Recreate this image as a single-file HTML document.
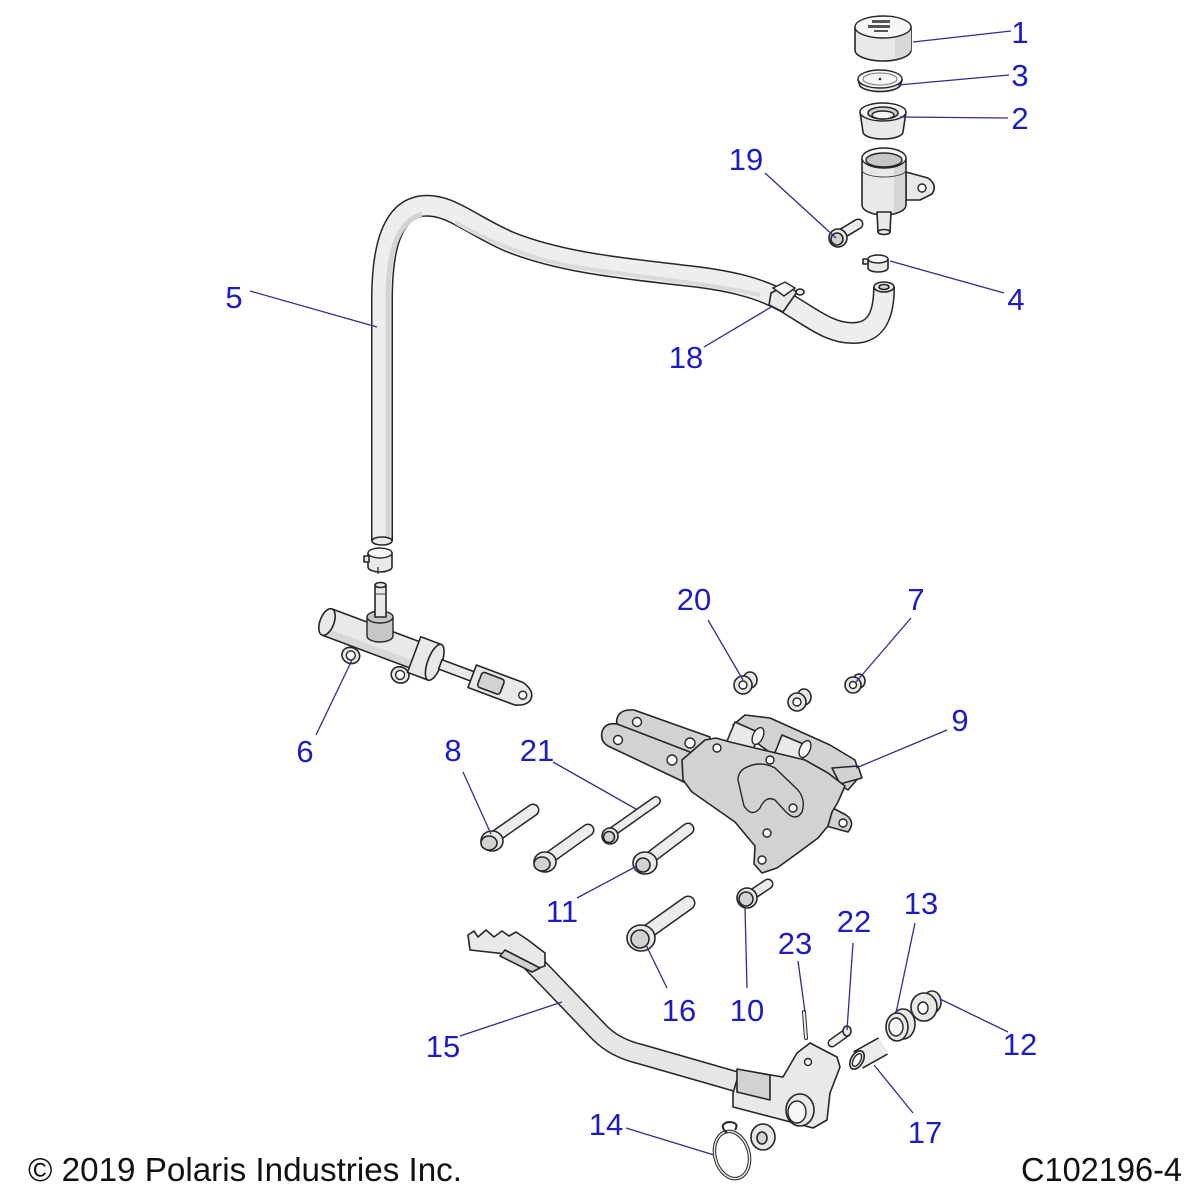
<!DOCTYPE html>
<html><head><meta charset="utf-8"><style>
html,body{margin:0;padding:0;background:#fff}
svg{display:block}
.p{fill:#e9e9e9;stroke:#262626;stroke-width:1.6;stroke-linejoin:round}
.d{fill:#d2d2d2;stroke:#262626;stroke-width:1.6;stroke-linejoin:round}
.m{fill:#c6c6c6;stroke:#262626;stroke-width:1.4;stroke-linejoin:round}
.w{fill:#f7f7f7;stroke:#262626;stroke-width:1.4}
.h{fill:#ffffff;stroke:#262626;stroke-width:1.4}
.l{stroke:#2e2e8e;stroke-width:1.3;fill:none}
.t{font-family:"Liberation Sans",sans-serif;font-size:31px;fill:#1c1cc6;text-anchor:middle}
.f{font-family:"Liberation Sans",sans-serif;font-size:33px;fill:#111}
</style></head><body>
<svg width="1200" height="1200" viewBox="0 0 1200 1200" xmlns="http://www.w3.org/2000/svg">
<rect width="1200" height="1200" fill="#fff"/>

<!-- ===== Reservoir stack ===== -->
<path class="p" d="M855,27 L855,50 A28,11 0 0 0 911,50 L911,27 Z"/>
<path d="M895,30 L895,58 A28,11 0 0 0 911,50 L911,27 Z" fill="#d8d8d8"/>
<ellipse class="w" cx="883" cy="27" rx="28" ry="11"/>
<g fill="#555"><rect x="872" y="20" width="18" height="3"/><rect x="868" y="25" width="22" height="3"/><rect x="874" y="30" width="14" height="2"/></g>
<path class="p" d="M858,80 L860,86 A21,8 0 0 0 900,86 L902,80 Z"/>
<ellipse class="w" cx="880" cy="79" rx="22" ry="9"/>
<ellipse fill="none" stroke="#777" stroke-width="1" cx="880" cy="79" rx="17" ry="6"/>
<circle cx="880" cy="79" r="1.3" fill="#222"/>
<path class="p" d="M860,112 L863,132 A20,7 0 0 0 903,132 L906,112 Z"/>
<ellipse class="w" cx="883" cy="112" rx="23" ry="9"/>
<ellipse class="d" cx="883" cy="113" rx="15" ry="6"/>
<ellipse class="w" cx="883" cy="115" rx="11" ry="4"/>
<path class="p" d="M906,172 L928,178 Q938,185 932,194 L920,200 L906,200 Z"/>
<circle class="h" cx="922" cy="188" r="4"/>
<path class="p" d="M862,158 L862,205 A22,10 0 0 0 906,205 L906,158 Z"/>
<path d="M894,166 L894,213 A22,10 0 0 0 905,206 L905,160 Z" fill="#d6d6d6"/>
<ellipse class="w" cx="884" cy="158" rx="22" ry="10"/>
<ellipse class="m" cx="884" cy="160" rx="18" ry="7"/>
<path fill="none" stroke="#444" stroke-width="1" d="M862,170 A22,7 0 0 0 906,170"/>
<path class="p" d="M877,212 L878,232 L890,232 L891,212 Z"/>
<ellipse class="p" cx="884" cy="232" rx="6" ry="2.5"/>
<line x1="843" y1="233" x2="858" y2="224" stroke="#262626" stroke-width="11" stroke-linecap="round"/>
<line x1="843" y1="233" x2="858" y2="224" stroke="#eee" stroke-width="8" stroke-linecap="round"/>
<ellipse class="p" cx="838" cy="238" rx="9" ry="9"/>
<ellipse class="d" cx="837" cy="239" rx="6" ry="6"/>
<path class="p" d="M868,259 L868,268 A10,4 0 0 0 888,268 L888,259 Z"/>
<ellipse class="w" cx="878" cy="259" rx="10" ry="4"/>
<rect class="p" x="863" y="259" width="5" height="5"/>

<!-- ===== Hose 5 ===== -->
<path d="M382,541 L382,300 C382,248 392,210 422,206 C450,203 470,225 510,242 C560,262 620,268 680,275 C730,280 760,288 785,302 C815,320 830,333 853,333 C878,333 884,312 884,287" fill="none" stroke="#262626" stroke-width="22"/>
<path d="M382,541 L382,300 C382,248 392,210 422,206 C450,203 470,225 510,242 C560,262 620,268 680,275 C730,280 760,288 785,302 C815,320 830,333 853,333 C878,333 884,312 884,287" fill="none" stroke="#eeeeee" stroke-width="19"/>
<path d="M388,541 L388,300 C388,255 396,222 422,214" fill="none" stroke="#d4d4d4" stroke-width="5"/>
<path d="M455,222 C490,243 530,257 560,264 C620,276 700,281 760,295" fill="none" stroke="#dadada" stroke-width="4"/>
<ellipse class="p" cx="382" cy="541" rx="10" ry="4"/>
<ellipse class="p" cx="884" cy="287" rx="10" ry="5"/>
<ellipse class="d" cx="884" cy="287" rx="5" ry="2.5"/>
<path class="p" d="M771,293 L786,285 L797,292 L783,312 L769,305 Z"/>
<path class="w" d="M773,288 L785,282 L795,288 L784,296 Z"/>
<ellipse class="p" cx="800" cy="292" rx="4" ry="3"/>

<path class="p" d="M368,553 L368,567 A12,5 0 0 0 392,567 L392,553 Z"/>
<ellipse class="w" cx="380" cy="553" rx="12" ry="5"/>
<rect class="p" x="364" y="556" width="5" height="6"/>
<line x1="378" y1="567" x2="378" y2="574" stroke="#262626" stroke-width="1.2"/>

<!-- ===== Master cylinder 6 ===== -->
<g transform="rotate(20.5 327 622)">
  <ellipse class="p" cx="361" cy="645" rx="9" ry="8"/>
  <circle class="h" cx="361" cy="645" r="4.5"/>
  <ellipse class="p" cx="414" cy="646" rx="9" ry="8"/>
  <circle class="h" cx="414" cy="646" r="4.5"/>
  <rect class="p" x="327" y="608" width="96" height="28"/>
  <rect x="328" y="628" width="94" height="7" fill="#d8d8d8"/>
  <ellipse class="p" cx="327" cy="622" rx="7" ry="14"/>
  <rect class="p" x="420" y="603" width="22" height="38"/>
  <ellipse class="p" cx="442" cy="622" rx="7" ry="19"/>
  <rect class="p" x="448" y="617" width="38" height="10"/>
  <path class="p" d="M482,610 L532,610 Q545,614 545,622 Q545,630 532,634 L482,634 Z"/>
  <rect class="d" x="490" y="614" width="24" height="16" rx="3"/>
  <circle class="h" cx="536" cy="622" r="4"/>
</g>
<path class="m" d="M367,617 L367,636 A13,6 0 0 0 393,636 L393,617 Z"/>
<ellipse class="m" cx="380" cy="617" rx="13" ry="6"/>
<rect class="p" x="375" y="585" width="11" height="32"/>
<ellipse class="p" cx="380.5" cy="585" rx="5.5" ry="2.5"/>
<line x1="375" y1="594" x2="386" y2="594" stroke="#444" stroke-width="1"/>

<!-- ===== Bracket 9 ===== -->
<path class="d" d="M733,725 L745,715 L770,718 L830,745 L855,760 L860,776 L848,790 L826,776 L780,760 Z"/>
<path class="p" d="M735,722 L760,733 L752,752 L727,741 Z"/>
<ellipse class="w" cx="758" cy="736" rx="5" ry="9" transform="rotate(25 758 736)"/>
<path class="p" d="M782,735 L808,746 L800,766 L774,755 Z"/>
<ellipse class="w" cx="805" cy="749" rx="5" ry="9" transform="rotate(25 805 749)"/>
<path class="d" d="M832,768 L858,766 L862,778 L840,784 Z"/>
<path class="d" d="M618,716 Q622,709 634,710 L710,737 L708,765 L692,760 L622,730 Q614,724 618,716 Z"/>
<circle class="h" cx="637" cy="722" r="4.5"/>
<circle class="h" cx="690" cy="743" r="5"/>
<path class="d" d="M602,732 Q605,722 617,724 L690,752 L700,790 L684,782 L608,746 Q600,741 602,732 Z"/>
<circle class="h" cx="618" cy="740" r="4.5"/>
<circle class="h" cx="672" cy="760" r="5"/>
<path class="d" d="M818,800 L846,815 Q856,822 848,832 L815,823 Z"/>
<circle class="h" cx="843" cy="823" r="4"/>
<path class="d" d="M682,760 L705,740 L716,738 L730,742 L805,760 L828,773 L845,786 L838,802 L832,812 L828,826 L818,838 L795,855 L777,868 L762,873 L754,864 L755,846 L735,822 L692,792 L683,780 Z"/>
<path fill="none" stroke="#262626" stroke-width="1.4" d="M745,768 Q760,760 775,768 L798,790 Q806,800 802,812 Q796,822 786,812 L775,800 Q766,795 760,808 Q752,818 744,806 L738,780 Q738,772 745,768 Z"/>
<circle class="h" cx="717" cy="748" r="4"/>
<circle class="h" cx="770" cy="760" r="4"/>
<circle class="h" cx="793" cy="808" r="4"/>
<circle class="h" cx="767" cy="833" r="4"/>
<circle class="h" cx="762" cy="860" r="4"/>

<ellipse class="p" cx="750" cy="680" rx="7" ry="8"/>
<ellipse class="p" cx="743" cy="685" rx="9" ry="9"/>
<circle class="h" cx="743" cy="685" r="4"/>
<ellipse class="p" cx="804" cy="697" rx="7" ry="8"/>
<ellipse class="p" cx="797" cy="702" rx="9" ry="9"/>
<circle class="h" cx="797" cy="702" r="4"/>
<ellipse class="p" cx="859" cy="681" rx="6" ry="7"/>
<ellipse class="p" cx="853" cy="685" rx="8" ry="8"/>
<circle class="h" cx="853" cy="685" r="3.5"/>

<!-- ===== bolts ===== -->
<line x1="493" y1="838" x2="533" y2="810" stroke="#262626" stroke-width="13" stroke-linecap="round"/>
<line x1="493" y1="838" x2="533" y2="810" stroke="#ececec" stroke-width="10" stroke-linecap="round"/>
<ellipse class="p" cx="492" cy="841" rx="11" ry="10"/>
<ellipse class="d" cx="489" cy="843" rx="8" ry="7"/>
<line x1="546" y1="860" x2="588" y2="830" stroke="#262626" stroke-width="13" stroke-linecap="round"/>
<line x1="546" y1="860" x2="588" y2="830" stroke="#ececec" stroke-width="10" stroke-linecap="round"/>
<ellipse class="p" cx="545" cy="862" rx="11" ry="10"/>
<ellipse class="d" cx="542" cy="864" rx="8" ry="7"/>
<line x1="612" y1="832" x2="656" y2="801" stroke="#262626" stroke-width="10" stroke-linecap="round"/>
<line x1="612" y1="832" x2="656" y2="801" stroke="#ececec" stroke-width="7" stroke-linecap="round"/>
<ellipse class="p" cx="610" cy="836" rx="8" ry="8"/>
<ellipse class="d" cx="609" cy="837" rx="5.5" ry="5.5"/>
<line x1="647" y1="860" x2="688" y2="829" stroke="#262626" stroke-width="13" stroke-linecap="round"/>
<line x1="647" y1="860" x2="688" y2="829" stroke="#ececec" stroke-width="10" stroke-linecap="round"/>
<ellipse class="p" cx="645" cy="863" rx="12" ry="11"/>
<ellipse class="d" cx="643" cy="865" rx="7" ry="7"/>
<line x1="643" y1="935" x2="688" y2="903" stroke="#262626" stroke-width="15" stroke-linecap="round"/>
<line x1="643" y1="935" x2="688" y2="903" stroke="#ececec" stroke-width="12" stroke-linecap="round"/>
<ellipse class="p" cx="641" cy="938" rx="14" ry="13"/>
<ellipse class="d" cx="640" cy="939" rx="9" ry="9"/>
<line x1="750" y1="896" x2="768" y2="884" stroke="#262626" stroke-width="11" stroke-linecap="round"/>
<line x1="750" y1="896" x2="768" y2="884" stroke="#ececec" stroke-width="8" stroke-linecap="round"/>
<ellipse class="p" cx="747" cy="898" rx="10" ry="10"/>
<ellipse class="d" cx="746" cy="899" rx="7" ry="7"/>

<!-- ===== Pedal 15 ===== -->
<path d="M530,960 L600,1033 Q615,1048 640,1054 L748,1085" fill="none" stroke="#262626" stroke-width="21" stroke-linejoin="round"/>
<path d="M530,960 L600,1033 Q615,1048 640,1054 L748,1085" fill="none" stroke="#e6e6e6" stroke-width="18" stroke-linejoin="round"/>
<path class="p" d="M468,935 L474,931 L478,937 L486,930 L494,937 L502,931 L509,936 L516,932 L528,940 L545,953 L545,966 L535,969 L515,955 L470,950 Z"/>
<path class="d" d="M505,950 L540,968 L532,972 L500,956 Z"/>
<path class="p" d="M740,1070 L783,1077 L797,1053 L810,1043 L837,1057 L840,1067 L830,1093 L827,1120 L813,1128 L783,1120 L733,1107 L733,1093 Z"/>
<path class="d" d="M737,1069 L770,1075 L770,1100 L737,1092 Z"/>
<circle class="h" cx="808" cy="1062" r="3.5"/>
<ellipse class="p" cx="800" cy="1110" rx="14" ry="16"/>
<ellipse class="w" cx="797" cy="1112" rx="9" ry="11"/>

<line x1="804" y1="1012" x2="806" y2="1038" stroke="#262626" stroke-width="4" stroke-linecap="round"/>
<line x1="804" y1="1012" x2="806" y2="1038" stroke="#eee" stroke-width="2" stroke-linecap="round"/>
<line x1="832" y1="1043" x2="846" y2="1033" stroke="#262626" stroke-width="9" stroke-linecap="round"/>
<line x1="832" y1="1043" x2="846" y2="1033" stroke="#eee" stroke-width="6" stroke-linecap="round"/>
<ellipse class="p" cx="847" cy="1031" rx="4" ry="5"/>
<line x1="858" y1="1060" x2="883" y2="1046" stroke="#262626" stroke-width="20"/>
<line x1="858" y1="1060" x2="883" y2="1046" stroke="#ececec" stroke-width="17"/>
<ellipse class="p" cx="857" cy="1060" rx="6" ry="10" transform="rotate(30 857 1060)"/>
<ellipse class="h" cx="857" cy="1060" rx="3.5" ry="7" transform="rotate(30 857 1060)"/>
<ellipse class="p" cx="903" cy="1024" rx="12" ry="15"/>
<ellipse class="p" cx="897" cy="1027" rx="11" ry="14"/>
<ellipse class="w" cx="896" cy="1027" rx="7" ry="9"/>
<ellipse class="p" cx="932" cy="1002" rx="9" ry="11"/>
<ellipse class="p" cx="924" cy="1007" rx="13" ry="14"/>
<ellipse class="h" cx="923" cy="1008" rx="5" ry="6"/>
<ellipse class="p" cx="763" cy="1137" rx="12" ry="13"/>
<ellipse class="d" cx="762" cy="1138" rx="5" ry="6"/>
<ellipse fill="none" stroke="#262626" stroke-width="3.5" cx="732" cy="1155" rx="17" ry="24" transform="rotate(-15 732 1155)"/>
<ellipse fill="none" stroke="#e6e6e6" stroke-width="1.5" cx="732" cy="1155" rx="17" ry="24" transform="rotate(-15 732 1155)"/>
<path d="M727,1133 Q718,1125 728,1122 Q740,1122 735,1130" fill="none" stroke="#262626" stroke-width="2"/>

<!-- ===== Leader lines ===== -->
<line class="l" x1="913" y1="42" x2="1011" y2="31"/>
<line class="l" x1="898" y1="85" x2="1009" y2="75"/>
<line class="l" x1="900" y1="117" x2="1008" y2="118"/>
<line class="l" x1="765" y1="173" x2="836" y2="238"/>
<line class="l" x1="890" y1="261" x2="1004" y2="293"/>
<line class="l" x1="250" y1="291" x2="377" y2="327"/>
<line class="l" x1="704" y1="347" x2="773" y2="306"/>
<line class="l" x1="316" y1="735" x2="352" y2="660"/>
<line class="l" x1="708" y1="620" x2="743" y2="680"/>
<line class="l" x1="911" y1="618" x2="856" y2="682"/>
<line class="l" x1="947" y1="730" x2="856" y2="768"/>
<line class="l" x1="463" y1="772" x2="491" y2="834"/>
<line class="l" x1="553" y1="762" x2="636" y2="809"/>
<line class="l" x1="577" y1="898" x2="637" y2="866"/>
<line class="l" x1="667" y1="988" x2="646" y2="945"/>
<line class="l" x1="747" y1="988" x2="745" y2="908"/>
<line class="l" x1="798" y1="961" x2="805" y2="1012"/>
<line class="l" x1="853" y1="943" x2="847" y2="1030"/>
<line class="l" x1="915" y1="923" x2="896" y2="1013"/>
<line class="l" x1="1008" y1="1032" x2="940" y2="999"/>
<line class="l" x1="460" y1="1036" x2="562" y2="1002"/>
<line class="l" x1="913" y1="1113" x2="874" y2="1065"/>
<line class="l" x1="626" y1="1128" x2="714" y2="1155"/>

<!-- ===== Labels ===== -->
<text class="t" x="1020" y="43">1</text>
<text class="t" x="1020" y="86">3</text>
<text class="t" x="1020" y="129">2</text>
<text class="t" x="746" y="170">19</text>
<text class="t" x="1016" y="310">4</text>
<text class="t" x="234" y="308">5</text>
<text class="t" x="686" y="368">18</text>
<text class="t" x="305" y="762">6</text>
<text class="t" x="694" y="610">20</text>
<text class="t" x="916" y="610">7</text>
<text class="t" x="960" y="731">9</text>
<text class="t" x="453" y="761">8</text>
<text class="t" x="537" y="761">21</text>
<text class="t" x="562" y="922">11</text>
<text class="t" x="679" y="1021">16</text>
<text class="t" x="747" y="1021">10</text>
<text class="t" x="795" y="954">23</text>
<text class="t" x="854" y="932">22</text>
<text class="t" x="921" y="914">13</text>
<text class="t" x="1020" y="1055">12</text>
<text class="t" x="443" y="1057">15</text>
<text class="t" x="925" y="1143">17</text>
<text class="t" x="606" y="1135">14</text>

<text class="f" x="28" y="1181" textLength="434" lengthAdjust="spacingAndGlyphs">© 2019 Polaris Industries Inc.</text>
<text class="f" x="1021" y="1181" textLength="161" lengthAdjust="spacingAndGlyphs">C102196-4</text>
</svg>
</body></html>
